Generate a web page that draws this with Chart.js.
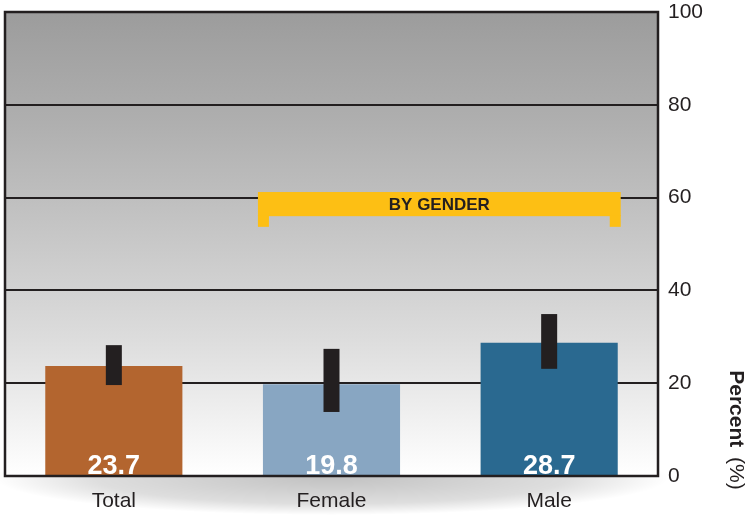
<!DOCTYPE html>
<html>
<head>
<meta charset="utf-8">
<script src="https://cdn.jsdelivr.net/npm/chart.js@4/dist/chart.umd.min.js"></script>
<style>
  html, body { margin: 0; padding: 0; background: #fff; }
  #wrap { width: 751px; height: 518px; }
</style>
</head>
<body>
<div id="wrap"><canvas id="chart" width="751" height="518"></canvas></div>
<script>
// ---- data ----
const categories = ['Total', 'Female', 'Male'];
const percents = [23.7, 19.8, 28.7];
const errLow = [19.6, 13.8, 23.1];
const errHigh = [28.2, 27.4, 34.9];
const barColors = ['#b3652f', '#88a6c2', '#2a6990'];
const yTicks = [0, 20, 40, 60, 80, 100];
const bracketLabel = 'BY GENDER';
const bracketFrom = 1, bracketTo = 2;   // category indexes
const bracketValue = [61.2, 56.0, 53.7]; // top, bar bottom, leg bottom

const INK = '#231f20';
const FONT = '"Liberation Sans Narrow", "Liberation Sans", Arial, sans-serif';

// soft shadow under plot + gradient background
const backdrop = {
  id: 'backdrop',
  beforeDraw(chart) {
    const { ctx, chartArea: a } = chart;
    ctx.save();
    const cx = (a.left + a.right) / 2, cy = a.bottom + 2;
    ctx.translate(cx, cy);
    ctx.scale(1, 0.11);
    const r = (a.right - a.left) / 2 + 10;
    const g = ctx.createRadialGradient(0, 0, 0, 0, 0, r);
    g.addColorStop(0, 'rgba(0,0,0,0.24)');
    g.addColorStop(0.7, 'rgba(0,0,0,0.13)');
    g.addColorStop(1, 'rgba(0,0,0,0)');
    ctx.fillStyle = g;
    ctx.beginPath();
    ctx.arc(0, 0, r, 0, Math.PI * 2);
    ctx.fill();
    ctx.restore();

    ctx.save();
    const lg = ctx.createLinearGradient(0, a.top, 0, a.bottom);
    lg.addColorStop(0, '#9c9c9c');
    lg.addColorStop(0.25, '#b0b0b0');
    lg.addColorStop(0.7, '#dcdcdc');
    lg.addColorStop(1, '#ffffff');
    ctx.fillStyle = lg;
    ctx.fillRect(a.left, a.top, a.right - a.left, a.bottom - a.top);
    ctx.restore();
  }
};

// error bars, value labels, bracket, frame, axis title
const overlay = {
  id: 'overlay',
  afterDatasetsDraw(chart) {
    const { ctx, chartArea: a, scales } = chart;
    const y = scales.y;
    const meta = chart.getDatasetMeta(0);
    ctx.save();
    meta.data.forEach((bar, i) => {
      const t = y.getPixelForValue(errHigh[i]);
      const b = y.getPixelForValue(errLow[i]);
      ctx.fillStyle = INK;
      ctx.fillRect(bar.x - 8, t, 16, b - t);

      ctx.fillStyle = '#ffffff';
      ctx.font = 'bold 27px ' + FONT;
      ctx.textAlign = 'center';
      ctx.textBaseline = 'alphabetic';
      ctx.fillText(percents[i].toFixed(1), bar.x, a.bottom - 2);
    });

    // bracket
    const b0 = meta.data[bracketFrom], b1 = meta.data[bracketTo];
    const x0 = b0.x - b0.width / 2 - 5;
    const x1 = b1.x + b1.width / 2 + 3;
    const yt = y.getPixelForValue(bracketValue[0]);
    const yb = y.getPixelForValue(bracketValue[1]);
    const yl = y.getPixelForValue(bracketValue[2]);
    ctx.fillStyle = '#fdbf14';
    ctx.fillRect(x0, yt, x1 - x0, yb - yt);
    ctx.fillRect(x0, yb - 1, 11, yl - yb + 1);
    ctx.fillRect(x1 - 11, yb - 1, 11, yl - yb + 1);
    ctx.fillStyle = INK;
    ctx.font = 'bold 17px "Liberation Sans", Arial, sans-serif';
    ctx.textAlign = 'center';
    ctx.textBaseline = 'middle';
    ctx.fillText(bracketLabel, (x0 + x1) / 2, (yt + yb) / 2 + 1);

    // frame
    ctx.strokeStyle = INK;
    ctx.lineWidth = 2.5;
    ctx.strokeRect(a.left, a.top, a.right - a.left, a.bottom - a.top);

    // axis title, rotated clockwise
    const boldF = 'bold 21px "Liberation Sans", Arial, sans-serif';
    const normF = '21px "Liberation Sans", Arial, sans-serif';
    ctx.font = boldF;
    const p1 = 'Percent ';
    const w1 = ctx.measureText(p1).width;
    ctx.font = normF;
    const p2 = '(%)';
    const w2 = ctx.measureText(p2).width;
    ctx.translate(736, 428);
    ctx.rotate(Math.PI / 2);
    ctx.textAlign = 'left';
    ctx.textBaseline = 'middle';
    ctx.fillStyle = INK;
    const start = -(w1 + w2) / 2;
    ctx.font = boldF;
    ctx.fillText(p1, start, 0);
    ctx.font = normF;
    ctx.fillText(p2, start + w1 + 4, 0);
    ctx.restore();
  }
};

new Chart(document.getElementById('chart'), {
  type: 'bar',
  data: {
    labels: categories,
    datasets: [{
      data: percents,
      backgroundColor: barColors,
      borderWidth: 0,
      barPercentage: 0.63,
      categoryPercentage: 1.0
    }]
  },
  options: {
    responsive: false,
    animation: false,
    layout: { padding: { left: 5, top: 12, right: 0, bottom: 0 } },
    plugins: { legend: { display: false }, tooltip: { enabled: false } },
    scales: {
      x: {
        grid: { display: false },
        border: { display: false },
        ticks: { color: INK, font: { family: FONT, size: 21 }, padding: 5 },
        afterFit(s) { s.height = 42; s.paddingLeft = 0; s.paddingRight = 0; }
      },
      y: {
        position: 'right',
        min: 0,
        max: 100,
        afterBuildTicks(s) { s.ticks = yTicks.map(v => ({ value: v })); },
        grid: { color: INK, lineWidth: 2, drawTicks: false },
        border: { display: false },
        ticks: { color: INK, font: { family: '"Liberation Sans", Arial, sans-serif', size: 21 }, padding: 10 },
        afterFit(s) { s.width = 93; s.paddingTop = 0; s.paddingBottom = 0; }
      }
    }
  },
  plugins: [backdrop, overlay]
});
</script>
</body>
</html>
